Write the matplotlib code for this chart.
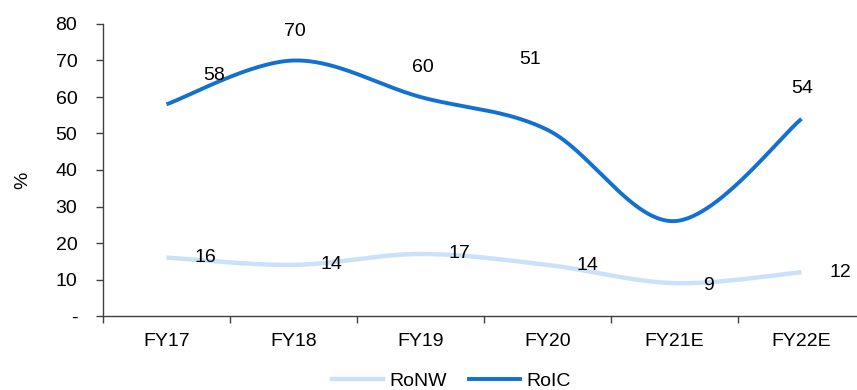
import numpy as np
import matplotlib
matplotlib.use("Agg")
import matplotlib.pyplot as plt
from matplotlib.lines import Line2D

plt.rcParams['font.family'] = ['Liberation Sans', 'DejaVu Sans']

categories = ["FY17", "FY18", "FY19", "FY20", "FY21E", "FY22E"]
ronw = [16, 14, 17, 14, 9, 12]
roic = [58, 70, 60, 51, 26, 54]
roic_labels = ["58", "70", "60", "51", None, "54"]
ronw_labels = ["16", "14", "17", "14", "9", "12"]

# label offsets in pixels (dx, dy) relative to each point
roic_offsets = [(48, 29), (1, 29), (2, 30), (-17, 70), (0, 0), (1, 30)]
ronw_offsets = [(39, 0), (38, 0), (39, 0), (40, -1), (34, -2), (39, 0)]

C_RONW = "#C9E2FA"
C_ROIC = "#1170D2"
FS = 14


def smooth(xs, ys, n=60):
    """Catmull-Rom spline through the points (Bezier control points at 1/6)."""
    xs = np.asarray(xs, float)
    ys = np.asarray(ys, float)
    P = np.column_stack([xs, ys])
    P = np.vstack([P[0], P, P[-1]])
    out = []
    for i in range(1, len(P) - 2):
        p0, p1, p2, p3 = P[i - 1], P[i], P[i + 1], P[i + 2]
        c1 = p1 + (p2 - p0) / 6.0
        c2 = p2 - (p3 - p1) / 6.0
        t = np.linspace(0, 1, n)[:, None]
        seg = ((1 - t) ** 3) * p1 + 3 * ((1 - t) ** 2) * t * c1 + 3 * (1 - t) * t ** 2 * c2 + t ** 3 * p2
        out.append(seg if i == 1 else seg[1:])
    out = np.vstack(out)
    return out[:, 0], out[:, 1]


fig = plt.figure(figsize=(8.57, 3.90), dpi=100)
ax = fig.add_axes([103 / 857, 74 / 390, 762 / 857, 292 / 390])

x = np.arange(len(categories))
sx, sy = smooth(x, ronw)
ax.plot(sx, sy, color=C_RONW, lw=3.2, solid_capstyle='butt', zorder=2)
sx, sy = smooth(x, roic)
ax.plot(sx, sy, color=C_ROIC, lw=2.8, solid_capstyle='butt', zorder=3)

for xi, v, lab, (dx, dy) in zip(x, roic, roic_labels, roic_offsets):
    if lab is None:
        continue
    ax.annotate(lab, (xi, v), xytext=(dx, dy), textcoords='offset pixels',
                ha='center', va='center', fontsize=FS, color='black', zorder=5)
for xi, v, lab, (dx, dy) in zip(x, ronw, ronw_labels, ronw_offsets):
    ax.annotate(lab, (xi, v), xytext=(dx, dy), textcoords='offset pixels',
                ha='center', va='center', fontsize=FS, color='black', zorder=5)

ax.set_xlim(-0.5, len(categories) - 0.5)
ax.set_ylim(0, 80)
ax.set_yticks(range(0, 81, 10))
ax.set_yticklabels(["-"] + [str(v) for v in range(10, 81, 10)])
ax.set_xticks(x)
ax.set_xticklabels(categories)
ax.set_xticks(np.arange(-0.5, len(categories) + 0.5, 1), minor=True)
ax.tick_params(axis='x', which='major', length=0, pad=12, labelsize=FS)
ax.tick_params(axis='x', which='minor', length=5, width=1, color='#404040')
ax.tick_params(axis='y', length=5, width=1, color='#404040', labelsize=FS, pad=13.5)

for s in ['top', 'right']:
    ax.spines[s].set_visible(False)
for s in ['left', 'bottom']:
    ax.spines[s].set_color('#404040')
    ax.spines[s].set_linewidth(1)

ax.set_ylabel("%", fontsize=FS)
ax.yaxis.set_label_coords(-0.094, 0.466)

handles = [Line2D([], [], color=C_RONW, lw=3.2), Line2D([], [], color=C_ROIC, lw=2.8)]
fig.legend(handles, ["RoNW", "RoIC"], loc='center', bbox_to_anchor=(451 / 857, 1 - 381 / 390),
           ncol=2, frameon=False, fontsize=FS, handlelength=2.65, handletextpad=0.3,
           columnspacing=1.13, borderpad=0)

fig.savefig("out.png", dpi=100)
